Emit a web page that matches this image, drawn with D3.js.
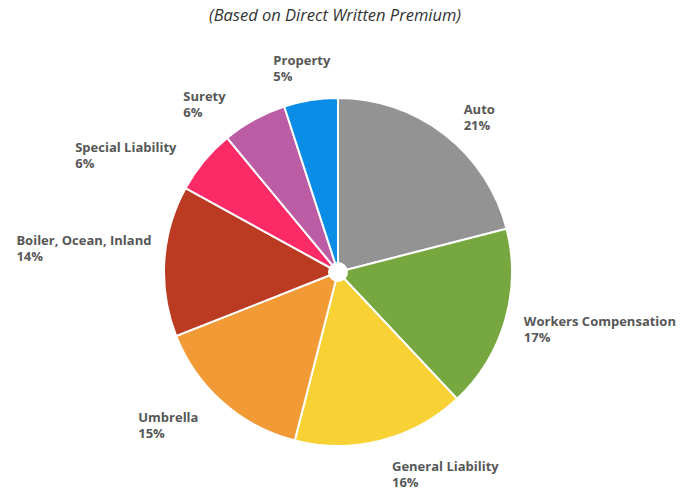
<!DOCTYPE html>
<html lang="en">
<head>
  <meta charset="UTF-8">
  <title>Direct Written Premium</title>
  <style>
    body { margin: 0; background: #fff; font-family: "Open Sans", sans-serif; }
    .title { font-style: italic; font-size: 16.5px; fill: #333; text-anchor: middle; }
    .lbl { font-weight: bold; font-size: 13px; fill: #575757; }
  </style>
</head>
<body>
  <svg width="688" height="493"></svg>
  <script src="https://d3js.org/d3.v7.min.js"></script>
  <script>
const categories = ["Auto", "Workers Compensation", "General Liability", "Umbrella",
  "Boiler, Ocean, Inland", "Special Liability", "Surety", "Property"];
const shares = [21, 17, 16, 15, 14, 6, 6, 5];
const colors = ["#939393", "#77a83f", "#f8d235", "#f29a35", "#bb3a22", "#fd2a68", "#bb5ca4", "#0a8de6"];

const width = 688, height = 493;
const cx = 338, cy = 272, radius = 174, labelRadius = 205;
// hand nudges for the label blocks, same order as categories
const labelNudge = [[0, 0], [-11, -7], [3, -4], [-4, -8], [18, -18], [-3, 7], [-13, 5], [25, -9]];

const svg = d3.select("svg");

svg.append("text")
  .attr("class", "title")
  .attr("x", 335)
  .attr("y", 21)
  .text("(Based on Direct Written Premium)");

const data = categories.map((c, i) => ({ name: c, value: shares[i], color: colors[i] }));

const pie = d3.pie().sort(null).value(d => d.value);
const arcs = pie(data);
const arc = d3.arc().innerRadius(0).outerRadius(radius);

const g = svg.append("g").attr("transform", `translate(${cx},${cy})`);

g.selectAll("path")
  .data(arcs)
  .join("path")
  .attr("d", arc)
  .attr("fill", d => d.data.color)
  .attr("stroke", "#fff")
  .attr("stroke-width", 2);

g.append("circle").attr("r", 10).attr("fill", "#fff");

const labels = g.selectAll("g.label")
  .data(arcs)
  .join("g")
  .attr("class", "label");

labels.each(function(d, i) {
  const el = d3.select(this);
  const t = el.append("text").attr("class", "lbl");
  t.append("tspan").attr("x", 0).attr("dy", 0).text(d.data.name);
  t.append("tspan").attr("x", 0).attr("dy", 16).text(d.data.value + "%");
  const w = t.node().getBBox().width;
  const a = (d.startAngle + d.endAngle) / 2;
  const px = Math.sin(a) * labelRadius;
  const py = -Math.cos(a) * labelRadius;
  const x = (Math.sin(a) >= 0 ? px : px - w) + labelNudge[i][0];
  const y = py + 4 + labelNudge[i][1];
  el.attr("transform", `translate(${x},${y})`);
});
  </script>
</body>
</html>
